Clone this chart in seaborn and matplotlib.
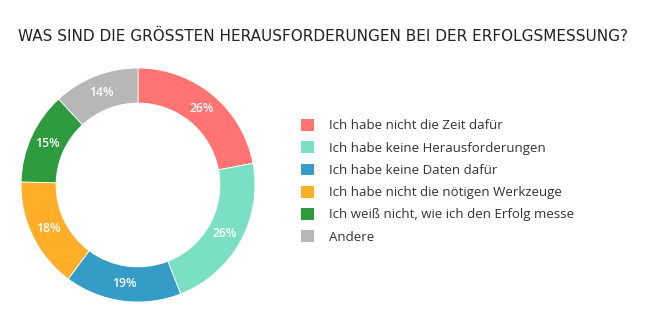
import matplotlib
matplotlib.use("Agg")
import matplotlib.pyplot as plt
import seaborn as sns
import numpy as np
from matplotlib.patches import Patch

categories = [
    "Ich habe nicht die Zeit dafür",
    "Ich habe keine Herausforderungen",
    "Ich habe keine Daten dafür",
    "Ich habe nicht die nötigen Werkzeuge",
    "Ich weiß nicht, wie ich den Erfolg messe",
    "Andere",
]
values = [26, 26, 19, 18, 15, 14]
colors = ["#FF7373", "#7BE0C3", "#349CC6", "#FFAE29", "#2E9C3E", "#B7B7B7"]
title = "WAS SIND DIE GRÖSSTEN HERAUSFORDERUNGEN BEI DER ERFOLGSMESSUNG?"

sns.set_theme(style="white")
plt.rcParams["font.family"] = ["Open Sans", "DejaVu Sans"]

fig = plt.figure(figsize=(6.53, 3.33), dpi=100)
ax = fig.add_axes([21 / 653, 31 / 333, 234 / 653, 234 / 333])

wedges, texts = ax.pie(
    values,
    colors=sns.color_palette(colors),
    startangle=90,
    counterclock=False,
    radius=1.0,
    wedgeprops=dict(width=0.30, edgecolor="white", linewidth=0.6),
)
for w, v in zip(wedges, values):
    ang = np.deg2rad((w.theta1 + w.theta2) / 2)
    r = 0.85
    ax.text(r * np.cos(ang), r * np.sin(ang), f"{v}%", ha="center", va="center",
            color="white", fontsize=8.8, fontweight="semibold")
ax.set_xlim(-1, 1)
ax.set_ylim(-1, 1)
ax.set_aspect("equal")
ax.axis("off")

fig.text(18 / 653, 1 - 36 / 333, title, fontsize=11.0, color="#222222",
         ha="left", va="center", family=["DejaVu Sans"])

handles = [Patch(facecolor=c, edgecolor="none") for c in colors]
fig.legend(handles, categories, loc="upper left",
           bbox_to_anchor=(301 / 653, 1 - 119 / 333), frameon=False,
           fontsize=9.5, handlelength=1.0, handleheight=1.0,
           handletextpad=1.15, labelspacing=0.67, borderaxespad=0,
           borderpad=0, labelcolor="#333333")

fig.savefig("out.png", dpi=100, facecolor="white")
